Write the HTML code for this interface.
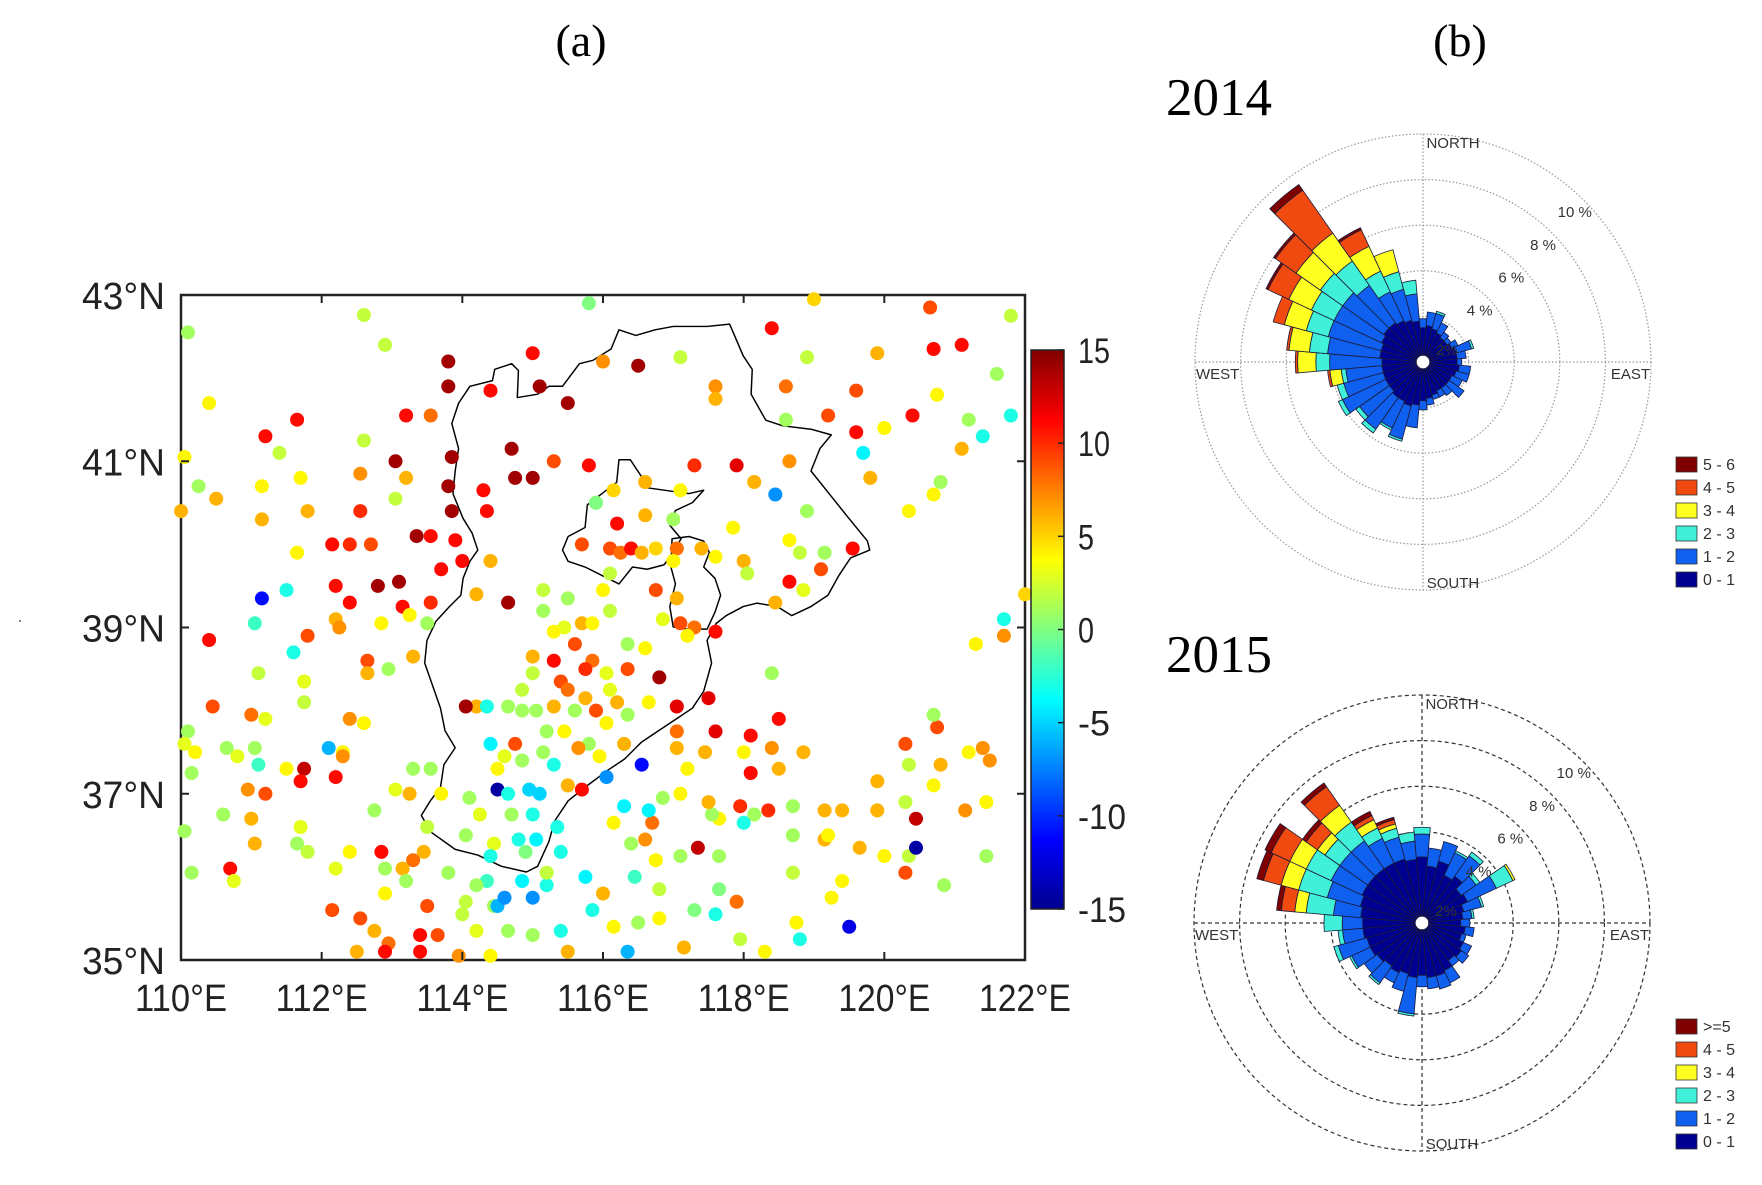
<!DOCTYPE html>
<html><head><meta charset="utf-8"><style>
html,body{margin:0;padding:0;background:#fff;}
svg{display:block;}
</style></head><body>
<svg id="fig" width="1762" height="1185" viewBox="0 0 1762 1185" xmlns="http://www.w3.org/2000/svg">
<rect x="0" y="0" width="1762" height="1185" fill="#fff"/>
<text x="581" y="56" font-family="Liberation Serif, serif" font-size="46" text-anchor="middle">(a)</text>
<text x="1460" y="56" font-family="Liberation Serif, serif" font-size="46" text-anchor="middle">(b)</text>
<text x="1166" y="115" font-family="Liberation Serif, serif" font-size="53">2014</text>
<text x="1166" y="672" font-family="Liberation Serif, serif" font-size="53">2015</text>
<circle cx="20" cy="621" r="1" fill="#555"/>
<defs>
<linearGradient id="jet" x1="0" y1="1" x2="0" y2="0">
<stop offset="0" stop-color="#00008f"/><stop offset="0.125" stop-color="#0000ff"/><stop offset="0.375" stop-color="#00ffff"/><stop offset="0.5" stop-color="#80ff80"/><stop offset="0.625" stop-color="#ffff00"/><stop offset="0.875" stop-color="#ff0000"/><stop offset="1" stop-color="#800000"/>
</linearGradient>
</defs>
<g id="map"></g>
<g id="rose14"></g>
<g id="rose15"></g>
</svg>
<script>
// ---------- map data ----------
const stationLon = [110.1,112.6,112.9,115.8,119.0,120.65,121.8,118.4,115.0,113.8,116.5,116.0,117.1,118.9,119.9,120.7,121.1,121.6,110.4,113.8,114.4,115.1,115.5,117.6,117.6,118.6,119.6,120.0,120.4,120.75,121.2,118.6,119.2,119.6,121.8,121.4,121.1,111.2,111.65,111.4,112.6,113.2,113.55,114.7,113.05,113.85,110.05,110.25,110.5,110.0,111.15,111.15,111.7,111.8,111.65,112.55,112.55,113.2,113.05,113.8,114.3,114.75,115.0,115.3,115.8,116.15,116.6,117.3,117.1,117.9,118.15,118.65,118.45,118.9,119.7,119.8,120.35,120.7,120.8,112.15,112.4,112.7,113.35,113.55,113.85,114.35,113.9,114.4,114.0,114.2,114.65,112.2,112.4,112.8,113.1,113.15,113.7,113.55,111.15,111.5,111.05,110.4,112.2,112.25,111.8,111.6,112.85,113.25,113.5,113.3,112.65,112.65,112.95,111.1,111.75,111.75,110.45,111.2,111.0,110.1,110.05,110.2,110.65,111.05,111.1,110.8,112.1,112.3,112.4,112.6,112.3,112.2,111.75,111.7,111.5,110.95,111.2,111.0,110.6,110.15,110.05,111.05,110.7,110.75,110.15,111.7,111.65,111.8,112.4,112.2,112.15,112.75,113.05,113.3,113.55,113.25,113.7,113.5,113.45,113.3,112.85,112.9,113.15,113.2,112.9,112.55,112.75,112.5,112.95,113.4,112.9,113.4,113.65,113.95,114.0,114.2,114.4,114.45,114.35,114.5,114.6,115.0,114.85,115.2,114.65,115.0,115.4,115.5,115.85,115.75,116.0,116.15,116.35,116.5,116.8,117.15,117.3,117.6,117.9,117.95,118.3,118.75,118.8,118.7,119.25,119.5,119.4,119.65,120.0,120.3,120.35,120.45,120.85,121.45,120.7,120.3,120.45,119.9,119.9,120.35,120.3,120.75,120.7,120.8,121.15,121.2,121.4,121.5,121.45,122.0,121.3,121.7,121.7,118.4,118.5,118.1,118.4,118.5,118.85,118.0,118.1,117.95,118.35,118.15,118.7,119.15,119.4,119.15,119.2,118.7,118.0,117.65,117.55,117.35,117.65,117.65,117.1,116.75,116.8,116.45,116.4,116.15,116.6,116.7,116.3,116.65,116.85,117.1,117.2,117.45,117.6,117.05,117.05,117.5,117.05,116.8,116.6,116.35,115.7,115.85,115.45,115.6,115.3,116.1,115.5,115.15,115.15,116.0,116.1,116.75,116.85,117.05,117.1,117.3,117.2,117.6,115.0,115.3,115.4,115.85,115.75,116.05,116.35,116.1,115.75,115.5,115.3,115.0,114.85,114.65,114.2,114.05,114.35,114.85,115.05,115.2,115.45,115.6,115.9,116.2,116.05,116.35,116.65,115.8,115.65,115.95,116.3,114.4,114.6,114.5,114.75,114.85,115.15,115.3,114.5,114.65,114.95,115.1,115.5,115.7,116.05,116.55,114.25,114.1,114.7,115.0,115.35,114.8,115.05,114.9,115.4,114.45,114.4,115.2,114.05,114.2,114.05,113.8,113.5,115.9,117.5,115.9,117.0,116.2,116.6,115.7,116.1,116.25,116.4,116.55,116.75,117.05,117.0,117.4,117.6,118.0,118.05,117.85,118.65,118.8,118.85,118.65,119.1,119.15,119.55,118.45,117.1];
const stationLat = [42.55,42.76,42.4,42.9,42.95,42.85,42.75,42.6,42.3,42.2,42.15,42.2,42.25,42.25,42.3,42.35,42.4,42.05,41.7,41.9,41.85,41.9,41.7,41.9,41.75,41.9,41.85,41.4,41.55,41.8,41.5,41.5,41.55,41.35,41.55,41.3,41.15,41.3,41.5,41.1,41.25,41.55,41.55,41.15,41.0,41.05,41.05,40.7,40.55,40.4,40.7,40.3,40.8,40.4,39.9,40.85,40.4,40.8,40.55,40.7,40.65,40.8,40.8,41.0,40.95,40.65,40.75,40.95,40.65,40.95,40.75,41.0,40.6,40.4,41.1,40.8,40.4,40.6,40.75,40.0,40.0,40.0,40.1,40.1,40.4,40.4,40.05,39.8,39.8,39.4,39.3,39.5,39.3,39.5,39.55,39.25,39.7,39.3,39.35,39.45,39.05,38.85,39.1,39.0,38.9,38.7,39.05,39.15,39.05,38.65,38.6,38.45,38.5,38.45,38.35,38.1,38.05,37.9,37.95,37.75,37.6,37.5,37.55,37.55,37.35,37.45,37.55,37.5,37.9,37.85,37.45,37.2,37.3,37.15,37.3,37.05,37.0,36.7,36.75,37.25,36.55,36.4,36.1,35.95,36.05,36.6,36.4,36.3,36.3,36.1,35.6,36.8,37.05,37.3,37.3,37.0,37.0,36.6,36.3,36.2,36.3,36.1,36.1,35.95,35.8,35.5,35.35,35.1,35.2,35.3,35.1,35.1,35.3,35.05,35.55,35.35,35.05,35.65,35.95,35.65,35.75,35.75,35.95,35.9,35.35,35.3,35.35,35.1,35.6,36.0,35.8,35.4,35.1,35.45,35.5,35.15,35.6,35.55,35.7,35.25,35.1,35.45,35.25,36.05,35.75,35.4,35.95,36.35,36.25,36.05,36.25,36.35,35.9,36.25,37.1,36.9,36.7,36.8,37.15,37.35,37.6,37.8,37.95,37.35,36.8,37.5,37.55,37.4,36.9,39.4,38.8,38.9,39.1,38.45,37.9,37.7,37.55,37.3,37.5,37.5,37.25,36.85,36.8,36.75,36.85,36.45,36.8,36.8,36.5,36.5,36.65,36.7,36.75,36.35,36.25,35.85,36.25,36.2,35.85,36.0,36.4,36.65,36.45,36.65,36.85,36.8,36.95,37.0,37.3,37.5,37.75,37.55,37.75,38.15,38.05,38.4,38.75,38.8,39.05,39.05,39.0,38.8,38.95,39.2,39.35,39.45,39.2,39.45,39.65,39.45,39.1,39.35,39.05,39.0,38.9,38.95,38.65,38.6,38.35,38.6,38.5,38.45,38.5,38.25,38.15,38.25,38.05,38.45,38.25,38.05,38.05,38.05,38.05,38.0,38.0,37.75,37.75,38.0,38.0,38.1,37.85,37.95,38.1,37.6,37.55,37.45,37.6,37.6,37.45,37.3,37.6,37.4,37.5,37.35,37.05,37.0,37.05,37.0,37.1,37.05,37.2,37.35,36.75,36.95,36.75,36.75,36.6,36.45,36.45,36.3,36.3,36.4,36.25,36.05,36.5,35.9,35.7,36.05,35.65,40.5,36.9,40.5,40.3,40.25,40.35,40.0,39.95,39.9,39.95,39.9,39.95,39.95,39.8,39.95,39.85,39.8,39.65,40.2,40.05,39.9,39.45,39.55,39.7,39.9,39.95,39.3,39.15];
const stationVal = [1,2,2,0,5,9,2,11,11,14,14,7,2,2,6,11,11,1,4,14,11,14,14,7,6,8,9,4,11,4,1,1,9,11,-3,-3,6,11,11,2,2,11,8,14,14,14,4,1,6,6,4,6,4,6,4,7,10,6,2,14,11,14,14,9,11,5,6,10,4,12,6,7,-7,1,-4,6,4,4,1,11,10,9,14,11,14,11,11,6,11,6,14,11,11,14,14,11,11,10,-11,-3,-2,11,6,7,9,-3,4,4,1,6,9,6,1,2,3,2,9,3,8,1,3,4,1,1,-2,3,-6,4,7,4,7,11,13,11,4,7,9,6,1,1,1,6,11,3,1,3,1,2,4,3,9,1,3,1,1,6,4,2,6,8,11,1,6,1,4,9,6,6,8,11,11,11,9,7,2,3,4,1,-2,-6,-7,-7,-4,-3,1,1,-3,6,-3,-4,6,4,-6,1,4,6,0,-3,8,2,4,4,-3,2,4,-12,4,6,4,9,2,-14,1,1,4,2,13,6,6,2,9,9,1,6,7,4,7,7,4,5,4,7,-3,1,11,11,7,6,6,4,11,10,10,1,1,6,6,6,4,1,-3,4,1,13,1,0,1,4,2,-2,1,4,7,8,-4,-4,1,4,4,6,12,6,8,12,12,14,4,1,6,4,3,9,4,2,1,2,1,4,2,9,3,6,9,8,4,11,6,11,9,8,10,3,9,3,6,8,6,2,2,1,6,14,-3,1,1,1,4,1,9,6,4,1,4,1,7,4,6,-4,3,4,9,1,1,-3,-14,-3,-5,-5,6,11,-7,-11,3,1,1,-3,-3,-3,-4,0,-3,3,-3,2,1,1,2,1,9,1,6,0,1,11,6,9,9,8,11,6,5,8,4,6,4,6,2,4,4,2,3,11,9,1,11,6];
const latTicks = [35,37,39,41,43];
const lonTicks = [110,112,114,116,118,120,122];
const cbarTicks = [-15,-10,-5,0,5,10,15];

// ---------- wind rose data (percent per 10-degree bin, by speed class) ----------
const roseDirections = [0,10,20,30,40,50,60,70,80,90,100,110,120,130,140,150,160,170,180,190,200,210,220,230,240,250,260,270,280,290,300,310,320,330,340,350];
const speed2014_0_1 = [1.2,1.3,1.2,1.1,1.0,1.0,1.1,1.2,1.2,1.2,1.3,1.2,1.1,1.1,1.1,1.1,1.2,1.3,1.4,1.6,1.7,1.6,1.6,1.5,1.5,1.5,1.5,1.5,1.6,1.6,1.7,1.8,1.8,1.7,1.6,1.5];
const speed2014_1_2 = [0.4,0.6,0.7,0.5,0.3,0.2,0.3,0.7,0.4,0.2,0.5,0.6,0.5,0.8,0.4,0.3,0.2,0.3,0.4,1.0,1.5,1.3,1.7,1.6,2.1,1.8,1.6,2.3,2.3,2.4,2.3,2.2,2.0,1.4,1.4,1.2];
const speed2014_2_3 = [0,0,0.1,0,0,0,0,0.1,0,0,0,0,0,0,0,0,0,0,0,0,0.1,0.1,0.2,0.2,0.2,0.3,0.2,0.6,0.8,1.0,1.1,1.2,1.3,1.0,0.8,0.6];
const speed2014_3_4 = [0,0,0,0,0,0,0,0,0,0,0,0,0,0,0,0,0,0,0,0,0,0,0,0,0,0,0.5,0.8,0.9,1.0,1.1,1.3,1.5,1.2,1.0,0];
const speed2014_4_5 = [0,0,0,0,0,0,0,0,0,0,0,0,0,0,0,0,0,0,0,0,0,0,0,0,0,0,0.1,0.1,0.1,0.5,1.0,1.1,2.3,0.8,0,0];
const speed2014_5_6 = [0,0,0,0,0,0,0,0,0,0,0,0,0,0,0,0,0,0,0,0,0,0,0,0,0,0,0,0,0,0,0.1,0.1,0.3,0.1,0,0];
const speed2015_0_1 = [2.6,2.2,2.5,2.0,2.2,1.8,1.9,1.6,1.5,1.4,1.6,1.5,1.7,1.8,1.7,2.0,2.1,2.1,2.0,2.1,2.0,2.1,2.0,2.1,2.2,2.2,2.3,2.3,2.4,2.5,2.6,2.6,2.6,2.6,2.6,2.5];
const speed2015_1_2 = [1.0,0.8,0.9,1.1,1.1,0.8,1.4,0.8,0.4,0.4,0.4,0.2,0.4,0.4,0.3,0.6,0.6,0.5,0.5,1.6,0.8,0.5,0.9,0.7,0.9,1.3,0.9,0.9,1.2,1.5,1.5,1.5,1.5,1.2,1.0,0.8];
const speed2015_2_3 = [0.3,0,0,0.1,0.2,0.2,0.8,0.1,0.1,0,0,0,0,0,0,0,0,0,0,0.1,0,0,0.1,0,0.1,0.2,0.2,0.8,1.2,1.3,1.2,0.8,1.0,0.5,0.4,0.4];
const speed2015_3_4 = [0,0,0,0,0,0,0.1,0,0,0,0,0,0,0,0,0,0,0,0,0,0,0,0,0,0,0,0,0,0.5,0.8,0.8,0.4,0.9,0.4,0.2,0];
const speed2015_4_5 = [0,0,0,0,0,0,0,0,0,0,0,0,0,0,0,0,0,0,0,0,0,0,0,0,0,0,0,0,0.6,0.8,0.9,0.6,1.0,0.2,0.2,0];
const speed2015_5up = [0,0,0,0,0,0,0,0,0,0,0,0,0,0,0,0,0,0,0,0,0,0,0,0,0,0,0,0,0.2,0.3,0.3,0.2,0.2,0.2,0.1,0];
const legend2014 = ["5 - 6","4 - 5","3 - 4","2 - 3","1 - 2","0 - 1"];
const legend2015 = [">=5","4 - 5","3 - 4","2 - 3","1 - 2","0 - 1"];
const ringValues = [2,4,6,8,10];

const NS = "http://www.w3.org/2000/svg";
function mk(tag, attrs, parent){const e=document.createElementNS(NS,tag);for(const k in attrs)e.setAttribute(k,attrs[k]);if(parent)parent.appendChild(e);return e;}

// ---------- map ----------
const PL=181, PR=1025, PT=295, PB=960;
const xScale = lon => PL + (lon-110)/12*(PR-PL);
const yScale = lat => PB - (lat-35)/8*(PB-PT);
function jet(v){
  const t=Math.max(0,Math.min(1,(v+15)/30));
  const c=x=>Math.round(255*Math.max(0,Math.min(1,x)));
  return `rgb(${c(1.5-Math.abs(4*t-3))},${c(1.5-Math.abs(4*t-2))},${c(1.5-Math.abs(4*t-1))})`;
}
const map=document.getElementById('map');
const frame=mk('rect',{x:PL,y:PT,width:PR-PL,height:PB-PT,fill:'none',stroke:'#222','stroke-width':2.5},map);


const hebei="628,292 648,290 660,318 668,330 667,352 680,375 695,380 720,383 738,388 728,400 720,420 736,440 752,460 770,482 772,490 755,497 745,512 735,530 720,540 703,548 690,540 672,537 660,540 645,548 636,555 628,570 632,590 625,615 615,630 600,640 585,650 570,660 555,675 540,685 520,700 505,712 493,730 488,748 478,770 468,775 446,770 425,760 405,755 384,740 375,725 383,712 392,700 395,680 405,665 396,650 392,630 385,610 378,590 380,570 388,553 400,540 410,530 412,515 418,500 425,490 420,475 412,462 403,440 405,420 408,400 402,378 408,360 418,345 438,340 440,330 455,325 461,331 460,355 478,352 488,345 500,345 515,325 527,322 543,312 550,295 565,300 582,295 598,292";
const beijing="522,450 535,440 548,430 550,410 560,410 570,425 576,435 597,438 612,440 625,437 615,448 600,455 595,468 605,480 596,495 590,503 575,507 562,505 550,520 540,515 520,505 505,500 500,490 505,478 520,470";
const tianjin="597,480 612,478 625,482 630,492 625,505 635,515 640,530 635,545 628,560 610,560 598,558 595,540 600,520 596,505";
const og=mk('g',{transform:'translate(0,0) scale(1.1295,1.1295) translate(-2,-3)'},map);
[[hebei,'hebei-boundary'],[beijing,'beijing-boundary'],[tianjin,'tianjin-boundary']].forEach(([p,n])=>{
  const e=mk('polygon',{points:p,fill:'none',stroke:'#000','stroke-width':1.3,'stroke-linejoin':'round'},og);
  
  
});
const nPts=Math.min(stationLon.length,stationLat.length,stationVal.length);
for(let i=0;i<nPts;i++){
  const c=mk('circle',{cx:xScale(stationLon[i]).toFixed(1),cy:yScale(stationLat[i]).toFixed(1),r:7,fill:jet(stationVal[i])},map);
  
  
}
lonTicks.forEach(l=>{
  const x=xScale(l);
  mk('line',{x1:x,y1:PB,x2:x,y2:PB-8,stroke:'#222','stroke-width':2},map);
  mk('line',{x1:x,y1:PT,x2:x,y2:PT+8,stroke:'#222','stroke-width':2},map);
  const t=mk('text',{x:x,y:1011,'font-family':'Liberation Sans, sans-serif','font-size':38,'text-anchor':'middle',textLength:92,lengthAdjust:'spacingAndGlyphs',fill:'#222'},map);
  t.textContent=l+'°E';
  
  
});
latTicks.forEach(l=>{
  const y=yScale(l);
  mk('line',{x1:PL,y1:y,x2:PL+8,y2:y,stroke:'#222','stroke-width':2},map);
  mk('line',{x1:PR,y1:y,x2:PR-8,y2:y,stroke:'#222','stroke-width':2},map);
  const t=mk('text',{x:165,y:y+14,'font-family':'Liberation Sans, sans-serif','font-size':38,'text-anchor':'end',textLength:83,lengthAdjust:'spacingAndGlyphs',fill:'#222'},map);
  t.textContent=l+'°N';
  
  
});
const CB={x:1031,y:350,w:33,h:559};
const cbar=mk('rect',{x:CB.x,y:CB.y,width:CB.w,height:CB.h,fill:'url(#jet)',stroke:'#222','stroke-width':1.5},map);


cbarTicks.forEach(v=>{
  const y=CB.y+CB.h-(v+15)/30*CB.h;
  mk('line',{x1:CB.x+CB.w,y1:y,x2:CB.x+CB.w-6,y2:y,stroke:'#222','stroke-width':1.5},map);
  const t=mk('text',{x:1078,y:y+13,'font-family':'Liberation Sans, sans-serif','font-size':35,textLength:(String(v).length*16),lengthAdjust:'spacingAndGlyphs',fill:'#222'},map);
  t.textContent=String(v);
  
  
});

// ---------- wind roses ----------
const classColors=['#000090','#1060f0','#40f0d8','#ffff20','#f04a10','#800000'];
const PXPCT=22.8;
function sector(cx,cy,r0,r1,a0,a1){
  const rad=a=>a*Math.PI/180;
  const p=(r,a)=>[cx+r*Math.sin(rad(a)),cy-r*Math.cos(rad(a))];
  const [x1,y1]=p(r1,a0),[x2,y2]=p(r1,a1),[x3,y3]=p(r0,a1),[x4,y4]=p(r0,a0);
  return `M${x1.toFixed(1)},${y1.toFixed(1)} A${r1},${r1} 0 0 1 ${x2.toFixed(1)},${y2.toFixed(1)} L${x3.toFixed(1)},${y3.toFixed(1)} A${r0},${r0} 0 0 0 ${x4.toFixed(1)},${y4.toFixed(1)}Z`;
}
function drawRose(gid,cx,cy,classes,labels,legendY,dark){
  const g=document.getElementById(gid);
  const gridColor=dark?'#333':'#999';
  const dash=dark?'4,3':'1.5,2';
  ringValues.forEach(v=>{
    const c=mk('circle',{cx,cy,r:v*PXPCT,fill:'none',stroke:gridColor,'stroke-width':1.2,'stroke-dasharray':dash},g);
    
    
  });
  const R=10*PXPCT;
  mk('line',{x1:cx-R,y1:cy,x2:cx+R,y2:cy,stroke:gridColor,'stroke-width':1.2,'stroke-dasharray':dash},g);
  mk('line',{x1:cx,y1:cy-R,x2:cx,y2:cy+R,stroke:gridColor,'stroke-width':1.2,'stroke-dasharray':dash},g);
  roseDirections.forEach((d,i)=>{
    let r=0.3*PXPCT;
    classes.forEach((arr,k)=>{
      const v=arr[i]; if(v<=0) return;
      const r1=r+v*PXPCT;
      const s=mk('path',{d:sector(cx,cy,r,r1,d-5,d+5),fill:classColors[k],stroke:'#1a1a3a','stroke-width':0.8},g);
      
      
      r=r1;
    });
  });
  mk('circle',{cx,cy,r:6,fill:'#fff'},g);
  const font='Liberation Sans, sans-serif';
  const lab=(txt,x,y,anchor,name)=>{const t=mk('text',{x,y,'font-family':font,'font-size':15,'text-anchor':anchor,fill:'#333'},g);t.textContent=txt;};
  lab('NORTH',cx+30,cy-R+14,'middle','north-label');
  lab('SOUTH',cx+30,cy+R-2,'middle','south-label');
  lab('WEST',cx-R+1,cy+17,'start','west-label');
  lab('EAST',cx+R-1,cy+17,'end','east-label');
  ringValues.slice(1).forEach(v=>{
    const a=44*Math.PI/180, rr=(v-0.8)*PXPCT;
    lab(v+' %',cx+rr*Math.sin(a)+6,cy-rr*Math.cos(a)+6,'middle','ring-label');
  });
  lab('2%',cx+24,cy-7,'middle','ring-label');
  labels.forEach((txt,j)=>{
    const y=legendY+j*23;
    const b=mk('rect',{x:1676,y:y-7,width:21,height:15,fill:classColors[5-j],stroke:'#333','stroke-width':0.8},g);
    
    
    const t=mk('text',{x:1703,y:y+6,'font-family':font,'font-size':16,fill:'#333'},g);
    t.textContent=txt;
    
    
  });
}
drawRose('rose14',1423,362,[speed2014_0_1,speed2014_1_2,speed2014_2_3,speed2014_3_4,speed2014_4_5,speed2014_5_6],legend2014,464,false);
drawRose('rose15',1422,923,[speed2015_0_1,speed2015_1_2,speed2015_2_3,speed2015_3_4,speed2015_4_5,speed2015_5up],legend2015,1026,true);
</script>
</body></html>
